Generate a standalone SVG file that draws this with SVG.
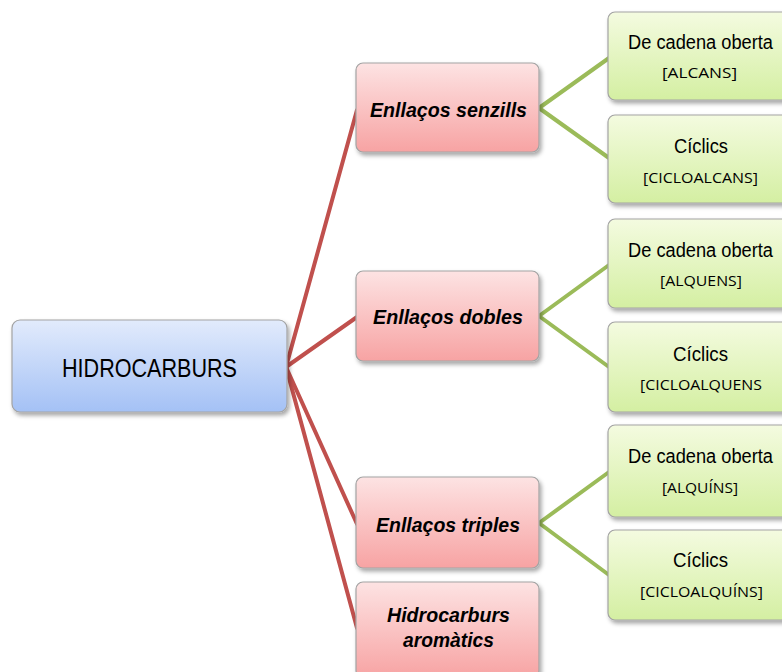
<svg xmlns="http://www.w3.org/2000/svg" width="782" height="672" viewBox="0 0 782 672">
<defs>
<linearGradient id="gBlue" x1="0" y1="0" x2="0" y2="1"><stop offset="0" stop-color="#e2ebfc"/><stop offset="1" stop-color="#a4c1f5"/></linearGradient>
<linearGradient id="gRed" x1="0" y1="0" x2="0" y2="1"><stop offset="0" stop-color="#fde3e3"/><stop offset="1" stop-color="#f7a3a3"/></linearGradient>
<linearGradient id="gGreen" x1="0" y1="0" x2="0" y2="1"><stop offset="0" stop-color="#f4fbe0"/><stop offset="1" stop-color="#d4efa2"/></linearGradient>
<filter id="sh" x="-10%" y="-10%" width="125%" height="130%"><feDropShadow dx="2" dy="3" stdDeviation="2" flood-color="#000" flood-opacity="0.35"/></filter>
<style>
.box{stroke:#a3a3a3;stroke-width:1.2;filter:url(#sh)}
.root{fill:url(#gBlue)}
.red{fill:url(#gRed)}
.green{fill:url(#gGreen)}
.lr{stroke:#c0504d;stroke-width:4;fill:none;stroke-linecap:round}
.lg{stroke:#9bbb59;stroke-width:4;fill:none;stroke-linecap:round}
text{fill:#000;text-anchor:middle}
.t1{font-family:"Liberation Sans",Arial,sans-serif;font-size:25px}
.t2{font-family:"Liberation Sans",Arial,sans-serif;font-size:20px;font-weight:bold;font-style:italic}
.t3{font-family:"Liberation Sans",Arial,sans-serif;font-size:20px}
.t4{font-family:"Open Sans","Noto Sans",sans-serif;font-size:14px}
</style>
</defs>
<g id="connectors">
<line class="lr" x1="286" y1="367" x2="357" y2="110"/>
<line class="lr" x1="286" y1="367" x2="357" y2="317"/>
<line class="lr" x1="286" y1="367" x2="357" y2="524"/>
<line class="lr" x1="286" y1="367" x2="357" y2="628"/>
<line class="lg" x1="539" y1="108" x2="609" y2="58"/>
<line class="lg" x1="539" y1="108" x2="609" y2="158"/>
<line class="lg" x1="539" y1="316" x2="609" y2="265"/>
<line class="lg" x1="539" y1="316" x2="609" y2="367"/>
<line class="lg" x1="539" y1="523" x2="609" y2="472"/>
<line class="lg" x1="539" y1="523" x2="609" y2="575"/>
</g>
<g id="n-root">
<rect class="box root" x="12" y="320" width="275" height="92" rx="8"/>
<text class="t1" x="149.5" y="377" textLength="175" lengthAdjust="spacingAndGlyphs">HIDROCARBURS</text>
</g>
<g id="n-senzills">
<rect class="box red" x="356" y="63" width="183" height="89" rx="7"/>
<text class="t2" x="448.5" y="117" textLength="157" lengthAdjust="spacingAndGlyphs">Enllaços senzills</text>
</g>
<g id="n-dobles">
<rect class="box red" x="356" y="271" width="183" height="90" rx="7"/>
<text class="t2" x="448" y="324" textLength="150" lengthAdjust="spacingAndGlyphs">Enllaços dobles</text>
</g>
<g id="n-triples">
<rect class="box red" x="356" y="477" width="183" height="91" rx="7"/>
<text class="t2" x="448" y="532" textLength="144" lengthAdjust="spacingAndGlyphs">Enllaços triples</text>
</g>
<g id="n-aromatics">
<rect class="box red" x="356" y="582" width="183" height="96" rx="7"/>
<text class="t2" x="448.5" y="622" textLength="123" lengthAdjust="spacingAndGlyphs">Hidrocarburs</text>
<text class="t2" x="448.5" y="647" textLength="91" lengthAdjust="spacingAndGlyphs">aromàtics</text>
</g>
<g id="n-alcans">
<rect class="box green" x="608" y="12" width="186" height="88" rx="7"/>
<text class="t3" x="700.5" y="49" textLength="145" lengthAdjust="spacingAndGlyphs">De cadena oberta</text>
<text class="t4" x="699.5" y="78" textLength="75" lengthAdjust="spacingAndGlyphs">[ALCANS]</text>
</g>
<g id="n-cicloalcans">
<rect class="box green" x="608" y="115" width="186" height="88" rx="7"/>
<text class="t3" x="701" y="153" textLength="54" lengthAdjust="spacingAndGlyphs">Cíclics</text>
<text class="t4" x="700.5" y="183" textLength="115" lengthAdjust="spacingAndGlyphs">[CICLOALCANS]</text>
</g>
<g id="n-alquens">
<rect class="box green" x="608" y="219" width="186" height="89" rx="7"/>
<text class="t3" x="700.5" y="257" textLength="145" lengthAdjust="spacingAndGlyphs">De cadena oberta</text>
<text class="t4" x="701" y="286" textLength="82" lengthAdjust="spacingAndGlyphs">[ALQUENS]</text>
</g>
<g id="n-cicloalquens">
<rect class="box green" x="608" y="322" width="186" height="90" rx="7"/>
<text class="t3" x="700.5" y="361" textLength="55" lengthAdjust="spacingAndGlyphs">Cíclics</text>
<text class="t4" x="701" y="390" textLength="122" lengthAdjust="spacingAndGlyphs">[CICLOALQUENS</text>
</g>
<g id="n-alquins">
<rect class="box green" x="608" y="425" width="186" height="92" rx="7"/>
<text class="t3" x="700.5" y="463" textLength="145" lengthAdjust="spacingAndGlyphs">De cadena oberta</text>
<text class="t4" x="700" y="493" textLength="76" lengthAdjust="spacingAndGlyphs">[ALQUÍNS]</text>
</g>
<g id="n-cicloalquins">
<rect class="box green" x="608" y="530" width="186" height="90" rx="7"/>
<text class="t3" x="700.5" y="567" textLength="55" lengthAdjust="spacingAndGlyphs">Cíclics</text>
<text class="t4" x="701.5" y="597" textLength="123" lengthAdjust="spacingAndGlyphs">[CICLOALQUÍNS]</text>
</g>
</svg>
